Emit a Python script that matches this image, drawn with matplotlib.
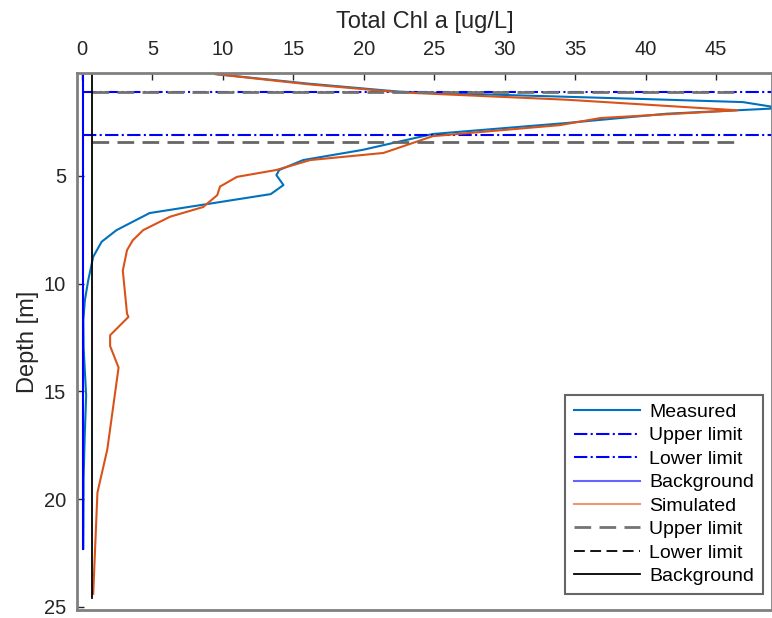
import matplotlib
matplotlib.use('Agg')
import matplotlib.pyplot as plt

# measured chlorophyll profile
meas_conc  = [9.5, 16.0, 22.6, 30.0, 40.0, 46.9, 49.6, 41.5, 34.4, 24.9, 19.9, 15.7, 14.0, 13.8,
              14.3, 13.4, 4.8, 2.46, 1.4, 0.8, 0.45, 0.21, 0.1, 0.12, 0.3, 0.2, 0.12, 0.1]
meas_depth = [0.28, 0.72, 1.1, 1.25, 1.44, 1.58, 1.86, 2.12, 2.55, 3.06, 3.8, 4.27, 4.73, 4.97,
              5.43, 5.85, 6.73, 7.52, 8.06, 8.76, 9.84, 10.77, 11.7, 13.0, 15.2, 17.0, 19.0, 22.3]

# simulated chlorophyll profile
sim_conc  = [9.45, 16.0, 22.6, 34.4, 46.5, 36.8, 33.9, 24.9, 21.4, 16.2, 13.8, 11.0, 9.8, 9.6,
             8.6, 6.25, 4.35, 3.6, 3.2, 2.9, 3.2, 3.3, 2.0, 2.0, 2.6, 1.8, 1.1, 0.8]
sim_depth = [0.28, 0.75, 1.13, 1.47, 1.96, 2.32, 2.65, 3.16, 3.94, 4.27, 4.73, 5.05, 5.5, 5.9,
             6.45, 6.9, 7.52, 8.0, 8.45, 9.4, 11.4, 11.55, 12.4, 12.9, 13.9, 17.7, 19.7, 24.4]

# limits and background levels
meas_upper, meas_lower, meas_bg = 1.11, 3.1, 0.07
meas_bg_depth = [0.23, 22.3]
meas_lim_x = [0.07, 49.6]
sim_upper, sim_lower, sim_bg = 1.11, 3.43, 0.72
sim_bg_depth = [0.23, 24.6]
sim_lim_x = [0.72, 46.5]

c_meas = '#0072BD'
c_sim = '#D95319'

plt.rcParams['font.family'] = ['Liberation Sans', 'DejaVu Sans']

fig = plt.figure(figsize=(7.72, 6.18), dpi=100)
ax = fig.add_axes([77/772., 1-610/618., 695/772., 537/618.])

ax.plot(meas_conc, meas_depth, color=c_meas, lw=1.5, label='Measured')
ax.plot(meas_lim_x, [meas_upper]*2, 'b-.', lw=1.5, label='Upper limit')
ax.plot(meas_lim_x, [meas_lower]*2, 'b-.', lw=1.5, label='Lower limit')
ax.plot([meas_bg]*2, meas_bg_depth, 'b-', lw=1.5, label='Background')
ax.plot(sim_conc, sim_depth, color=c_sim, lw=1.5, label='Simulated')
ax.plot(sim_lim_x, [sim_upper]*2, '--', color='0.45', lw=2, dashes=(6, 3), label='Upper limit')
ax.plot(sim_lim_x, [sim_lower]*2, '--', color='0.4', lw=2, dashes=(6, 3), label='Lower limit')
ax.plot([sim_bg]*2, sim_bg_depth, 'k-', lw=1.3, label='Background')

ax.set_xlim(-0.35, 48.97)
ax.set_ylim(25.15, 0.23)
ax.set_xticks(range(0, 50, 5))
ax.set_yticks([5, 10, 15, 20, 25])
ax.xaxis.tick_top()
ax.xaxis.set_label_position('top')
ax.tick_params(direction='in', length=5, width=1, colors='0.15', labelsize=14.5, pad=8)
ax.tick_params(axis='x', pad=10)
for s in ax.spines.values():
    s.set_color('0.5')
    s.set_linewidth(2)
ax.set_xlabel('Total Chl a [ug/L]', fontsize=17, color='0.15', labelpad=9)
ax.set_ylabel('Depth [m]', fontsize=17, color='0.15', labelpad=3)

leg = ax.legend(loc='lower right', bbox_to_anchor=(0.987, 0.03), borderaxespad=0,
                fontsize=14, handlelength=3.4, handletextpad=0.5, labelspacing=0.3,
                borderpad=0.45, fancybox=False, framealpha=1)
leg.get_frame().set_edgecolor('0.4')
leg.get_frame().set_linewidth(1.5)
leg.get_lines()[3].set_alpha(0.6)
leg.get_lines()[4].set_alpha(0.6)
leg.get_lines()[6].set_color('k')
leg.get_lines()[6].set_linewidth(1.3)

fig.savefig('out.png', dpi=100)
